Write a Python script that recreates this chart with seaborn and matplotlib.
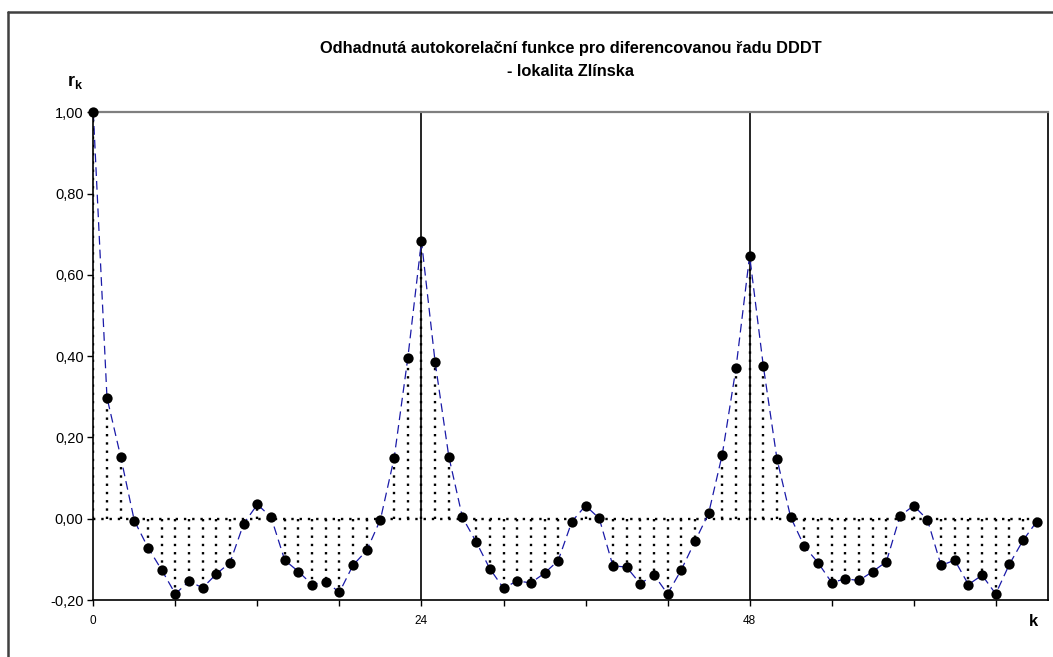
import numpy as np
import pandas as pd
import matplotlib
matplotlib.use("Agg")
import matplotlib.pyplot as plt
from matplotlib.lines import Line2D
import seaborn as sns

# ---- data ----
lags = list(range(0, 70))
acf = [1.000, 0.298, 0.153, -0.005, -0.071, -0.126, -0.185, -0.154, -0.170, -0.136,
       -0.108, -0.012, 0.035, 0.004, -0.102, -0.130, -0.162, -0.155, -0.181, -0.114,
       -0.078, -0.002, 0.149, 0.395, 0.683, 0.385, 0.153, 0.003, -0.057, -0.123,
       -0.171, -0.153, -0.158, -0.134, -0.103, -0.007, 0.032, 0.001, -0.116, -0.119,
       -0.160, -0.138, -0.185, -0.126, -0.056, 0.013, 0.158, 0.370, 0.647, 0.376,
       0.147, 0.004, -0.068, -0.108, -0.157, -0.148, -0.152, -0.130, -0.106, 0.007,
       0.032, -0.002, -0.115, -0.102, -0.162, -0.139, -0.185, -0.112, -0.053, -0.007]
season_lines = [24, 48]
x_ticks = list(range(0, 70, 6))
x_tick_labels = ["0", "", "", "", "24", "", "", "", "48", "", "", ""]
y_ticks = [-0.20, 0.00, 0.20, 0.40, 0.60, 0.80, 1.00]
y_tick_labels = ["-0,20", "0,00", "0,20", "0,40", "0,60", "0,80", "1,00"]
title1 = "Odhadnutá autokorelační funkce pro diferencovanou řadu DDDT"
title2 = "- lokalita Zlínska"

df = pd.DataFrame({"k": lags, "r": acf})

sns.set_theme(style="white")
plt.rcParams["font.family"] = ["Liberation Sans", "DejaVu Sans"]
plt.rcParams["mathtext.fontset"] = "custom"
plt.rcParams["mathtext.bf"] = "Liberation Sans:bold"
plt.rcParams["mathtext.rm"] = "Liberation Sans"
plt.rcParams["text.color"] = "black"
plt.rcParams["xtick.color"] = "black"
plt.rcParams["ytick.color"] = "black"

fig = plt.figure(figsize=(10.53, 6.57), dpi=100)
fig.patch.set_facecolor("white")
ax = fig.add_axes([93.3 / 1053, 1 - 600 / 657, (1047.7 - 93.3) / 1053, (600 - 112.3) / 657])

# seasonal vertical lines
for s in season_lines:
    ax.axvline(s, color="black", lw=1.2, zorder=1)

# dotted drop lines and zero line
ax.vlines(df["k"], 0, df["r"], colors="black", linestyles=(0, (1, 2.5)), lw=1.7, zorder=2)
ax.hlines(0, df["k"].min(), df["k"].max(), colors="black", linestyles=(0, (1, 2.5)), lw=1.7, zorder=2)

# dashed connecting line and markers
sns.lineplot(data=df, x="k", y="r", ax=ax, color="#1a1aa8", lw=0.9,
             dashes=False, zorder=3)
ax.lines[-1].set_dashes((7, 4))
sns.scatterplot(data=df, x="k", y="r", ax=ax, color="black", s=55,
                edgecolor="black", linewidth=0, zorder=6, clip_on=False)

ax.set_xlim(0, 69.8)
ax.set_ylim(-0.20, 1.00)
ax.set_xticks(x_ticks)
ax.set_xticklabels(x_tick_labels, fontsize=8.5)
ax.set_yticks(y_ticks)
ax.set_yticklabels(y_tick_labels, fontsize=10.5)
ax.set_xlabel("")
ax.set_ylabel("")
ax.tick_params(axis="both", direction="out", length=4, width=1, color="black",
               bottom=True, left=True, pad=3)
ax.tick_params(axis="x", pad=7)

for side in ["left", "bottom"]:
    ax.spines[side].set_color("black")
    ax.spines[side].set_linewidth(1.2)
ax.spines["top"].set_color("#7f7f7f")
ax.spines["top"].set_linewidth(1.6)
ax.spines["right"].set_color("#202020")
ax.spines["right"].set_linewidth(1.4)
for sp in ax.spines.values():
    sp.set_zorder(5)
ax.grid(False)

# titles and axis labels
cx = (93.3 + 1047.7) / 2 / 1053
fig.text(cx, 1 - 49 / 657, title1, ha="center", va="center", fontsize=11.8, fontweight="bold")
fig.text(cx, 1 - 71 / 657, title2, ha="center", va="center", fontsize=11.8, fontweight="bold")
fig.text(75 / 1053, 1 - 82 / 657, r"$\mathbf{r_k}$", ha="center", va="center", fontsize=13)
fig.text(1033 / 1053, 1 - 622 / 657, "k", ha="center", va="center", fontsize=12, fontweight="bold")

# outer chart-area border (top and left edges)
fig.add_artist(Line2D([8 / 1053, 1.0], [1 - 12 / 657, 1 - 12 / 657], transform=fig.transFigure,
                      color="#404040", lw=1.8))
fig.add_artist(Line2D([8 / 1053, 8 / 1053], [0.0, 1 - 12 / 657], transform=fig.transFigure,
                      color="#404040", lw=1.8))

fig.savefig("out.png", dpi=100, facecolor="white")
